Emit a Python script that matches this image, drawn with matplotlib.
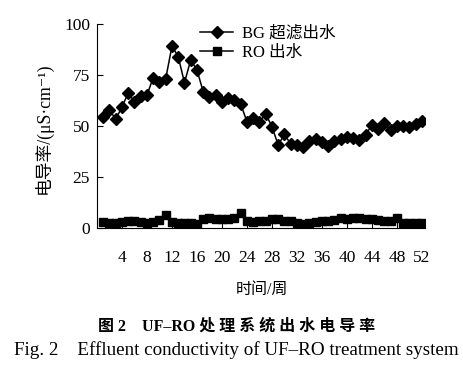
import matplotlib
matplotlib.use("Agg")
from matplotlib import pyplot as plt

# Weekly conductivity readings (uS/cm)
weeks = list(range(1, 53))
bg_uf = [54.4, 57.8, 53.4, 59.3, 66.3, 61.8, 64.7, 65.2, 73.7, 71.7,
         73.2, 89.2, 84.0, 71.2, 82.4, 77.5, 66.8, 64.4, 65.2, 61.9,
         63.7, 62.7, 60.8, 52.1, 53.9, 52.1, 55.9, 49.7, 40.7, 45.9,
         41.2, 40.7, 39.5, 42.6, 43.6, 42.3, 40.2, 42.8, 43.5, 44.8,
         44.3, 43.1, 45.6, 50.5, 48.4, 51.3, 48.0, 50.0, 50.0, 49.4,
         50.8, 52.6]
ro_out = [3.0, 2.5, 2.5, 2.8, 3.2, 3.3, 2.8, 2.6, 2.8, 4.0,
          6.5, 3.0, 2.5, 2.5, 2.4, 2.0, 4.5, 4.8, 4.5, 4.2,
          4.5, 5.0, 7.5, 3.2, 3.0, 3.2, 3.5, 4.5, 4.2, 3.6,
          3.4, 2.4, 2.2, 2.6, 3.0, 3.2, 3.2, 3.8, 5.0, 4.2,
          5.0, 4.8, 4.3, 4.5, 4.0, 3.5, 3.3, 5.0, 2.5, 2.6,
          2.3, 2.5]
x_ticks = list(range(4, 53, 4))
y_ticks = [0, 25, 50, 75, 100]

serif = ["Liberation Serif", "DejaVu Serif", "Noto Sans CJK SC"]
plt.rcParams["font.family"] = serif

W, H = 463, 370
fig = plt.figure(figsize=(W / 100, H / 100), dpi=100)
ax = fig.add_axes([97 / W, (H - 228) / H, (425 - 97) / W, 204 / H])

ax.plot(weeks, bg_uf, color="black", marker="D", markersize=6.3, linewidth=1.1,
        label="BG 超滤出水")
ax.plot(weeks, ro_out, color="black", marker="s", markersize=6, linewidth=1.1,
        label="RO 出水")

ax.set_xlim(0, 52.5)
ax.set_ylim(0, 100)
ax.set_xticks(x_ticks)
ax.set_yticks(y_ticks)
ax.spines["top"].set_visible(False)
ax.spines["right"].set_visible(False)
ax.tick_params(axis="both", direction="in", length=4, width=0.8, labelsize=12.5)
ax.tick_params(axis="x", pad=16)
ax.tick_params(axis="y", pad=5)

ax.legend(loc="upper left", bbox_to_anchor=(200 / W, 1 - 26 / H),
          bbox_transform=fig.transFigure, frameon=False,
          borderpad=0, borderaxespad=0, handlelength=2.0,
          handletextpad=0.55, labelspacing=0.15,
          prop={"family": serif, "size": 12})

fig.text(43 / W, 1 - 128 / H, "电导率/(μS·cm⁻¹)", rotation=90,
         ha="center", va="center", fontsize=12.8, family=serif)
fig.text(262 / W, 1 - 290 / H, "时间/周", ha="center", va="center",
         fontsize=11.5, family=serif)
fig.text(237 / W, 1 - 327 / H, "图 2    UF–RO 处 理 系 统 出 水 电 导 率",
         ha="center", va="center", fontsize=11.5, fontweight="bold",
         family=serif)
fig.text(236 / W, 1 - 350 / H,
         "Fig. 2    Effluent conductivity of UF–RO treatment system",
         ha="center", va="center", fontsize=13.7, family=serif)

plt.savefig("out.png", dpi=100)
